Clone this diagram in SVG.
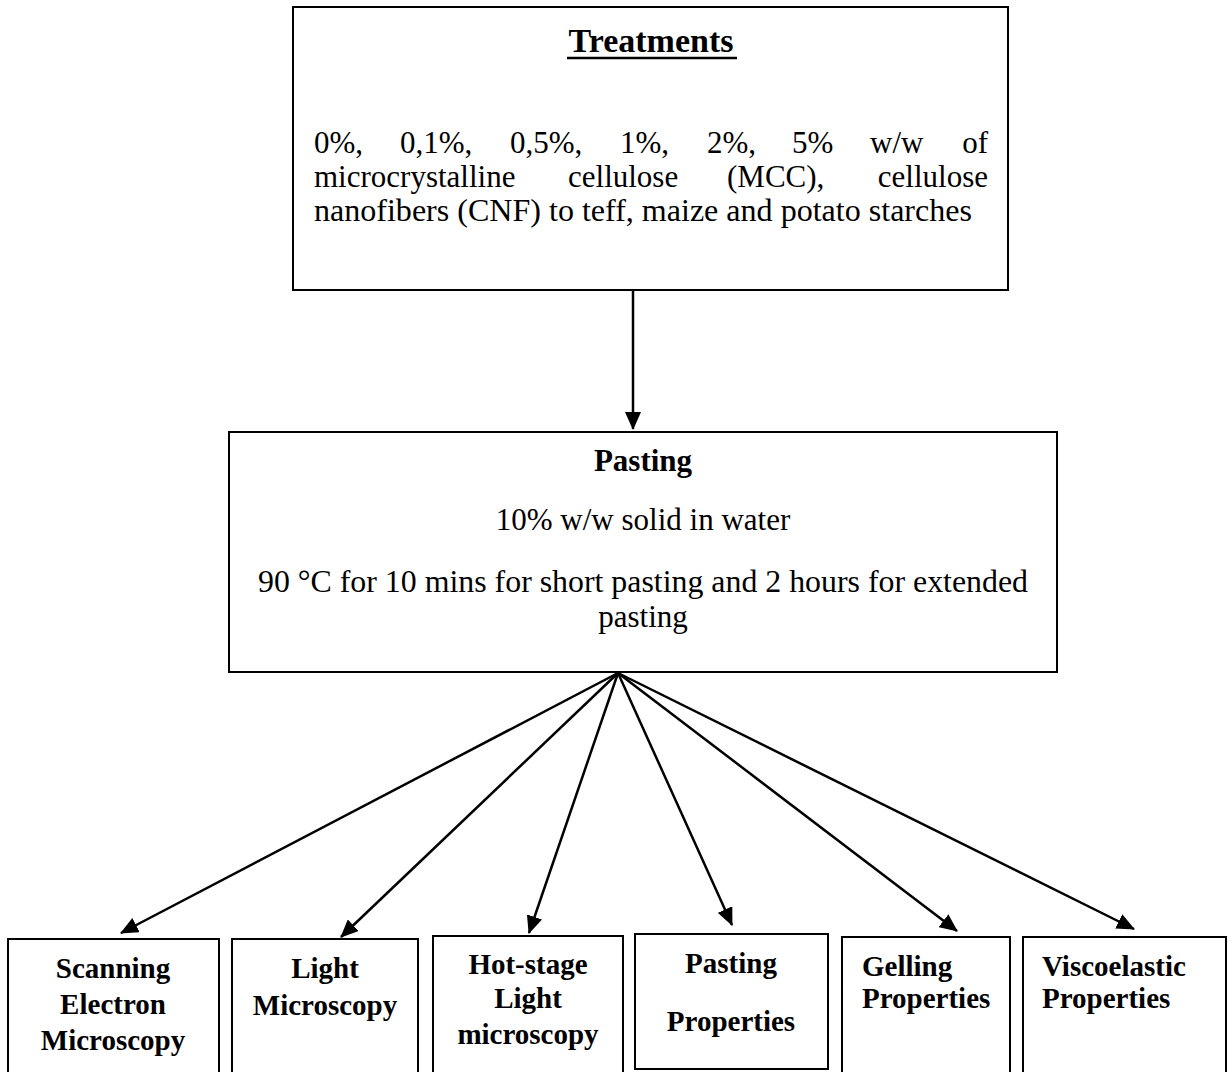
<svg xmlns="http://www.w3.org/2000/svg" width="1228" height="1072" viewBox="0 0 1228 1072">
<style>
.box{fill:#fff;stroke:#000;stroke-width:2}
.t{font-family:"Liberation Serif","Times New Roman",serif;fill:#000}
.r{font-size:31px}
.b{font-size:29px;font-weight:bold}
.c{text-anchor:middle}
.con{stroke:#000;stroke-width:2.5;fill:none}
</style>
<defs>
<marker id="ah" markerUnits="userSpaceOnUse" markerWidth="18" markerHeight="16" viewBox="0 0 18 16" refX="17" refY="8" orient="auto">
<path d="M0,0 L18,8 L0,16 Z" fill="#000"/>
</marker>
</defs>
<rect width="1228" height="1072" fill="#fff"/>
<g id="connectors">
<line class="con" x1="633" y1="290" x2="633" y2="429" marker-end="url(#ah)"/>
<line class="con" x1="618" y1="673" x2="121" y2="933" marker-end="url(#ah)"/>
<line class="con" x1="618" y1="673" x2="341" y2="937" marker-end="url(#ah)"/>
<line class="con" x1="618" y1="673" x2="529" y2="933" marker-end="url(#ah)"/>
<line class="con" x1="618" y1="673" x2="732" y2="925" marker-end="url(#ah)"/>
<line class="con" x1="618" y1="673" x2="957" y2="931" marker-end="url(#ah)"/>
<line class="con" x1="618" y1="673" x2="1134" y2="929" marker-end="url(#ah)"/>
</g>
<g id="treatments">
<rect class="box" x="293" y="7" width="715" height="283"/>
<text class="t c" x="651" y="52" font-size="34" font-weight="bold">Treatments</text>
<line x1="567" y1="58" x2="737" y2="58" stroke="#000" stroke-width="2.5"/>
<text class="t r"><tspan x="314" y="153">0%,</tspan><tspan x="400" y="153">0,1%,</tspan><tspan x="510" y="153">0,5%,</tspan><tspan x="620" y="153">1%,</tspan><tspan x="707" y="153">2%,</tspan><tspan x="792" y="153">5%</tspan><tspan x="870" y="153">w/w</tspan><tspan x="988" y="153" text-anchor="end">of</tspan></text>
<text class="t r"><tspan x="314" y="187">microcrystalline</tspan><tspan x="568" y="187">cellulose</tspan><tspan x="727" y="187">(MCC),</tspan><tspan x="988" y="187" text-anchor="end">cellulose</tspan></text>
<text class="t r" x="314" y="221" textLength="658" lengthAdjust="spacingAndGlyphs">nanofibers (CNF) to teff, maize and potato starches</text>
</g>
<g id="pasting">
<rect class="box" x="229" y="432" width="828" height="240"/>
<text class="t c" x="643" y="471" font-size="31" font-weight="bold">Pasting</text>
<text class="t r c" x="643" y="530">10% w/w solid in water</text>
<text class="t r c" x="643" y="592" textLength="770" lengthAdjust="spacingAndGlyphs">90 °C for 10 mins for short pasting and 2 hours for extended</text>
<text class="t r c" x="643" y="627">pasting</text>
</g>
<g id="sem">
<rect class="box" x="8" y="939" width="211" height="150"/>
<text class="t b c" x="113" y="978">Scanning</text>
<text class="t b c" x="113" y="1014">Electron</text>
<text class="t b c" x="113" y="1050">Microscopy</text>
</g>
<g id="light">
<rect class="box" x="232" y="939" width="186" height="150"/>
<text class="t b c" x="325" y="978">Light</text>
<text class="t b c" x="325" y="1015">Microscopy</text>
</g>
<g id="hotstage">
<rect class="box" x="433" y="936" width="190" height="150"/>
<text class="t b c" x="528" y="974">Hot-stage</text>
<text class="t b c" x="528" y="1008">Light</text>
<text class="t b c" x="528" y="1044">microscopy</text>
</g>
<g id="pastingprops">
<rect class="box" x="635" y="934" width="193" height="135"/>
<text class="t b c" x="731" y="973">Pasting</text>
<text class="t b c" x="731" y="1031">Properties</text>
</g>
<g id="gelling">
<rect class="box" x="842" y="937" width="168" height="150"/>
<text class="t b" x="862" y="976">Gelling</text>
<text class="t b" x="862" y="1008">Properties</text>
</g>
<g id="viscoelastic">
<rect class="box" x="1023" y="937" width="203" height="150"/>
<text class="t b" x="1042" y="976">Viscoelastic</text>
<text class="t b" x="1042" y="1008">Properties</text>
</g>
</svg>
